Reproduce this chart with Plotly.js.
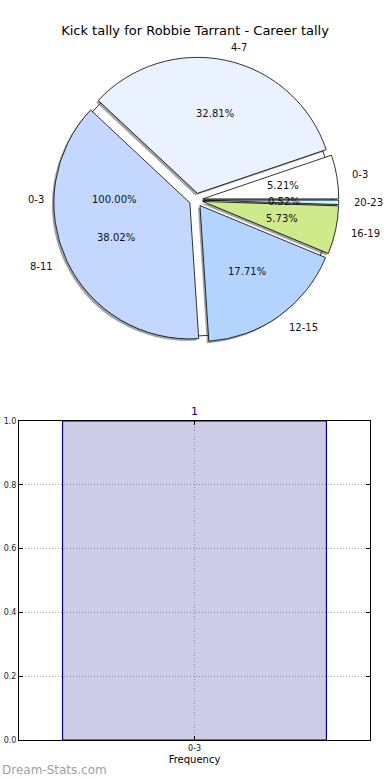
<!DOCTYPE html>
<html>
<head>
<meta charset="utf-8">
<script src="https://cdn.plot.ly/plotly-3.0.1.min.js"></script>
<style>html,body{margin:0;padding:0;background:#fff;}#chart{width:390px;height:780px;}</style>
</head>
<body>
<div id="chart"></div>
<script>
// ---- data ----
const titleText = "Kick tally for Robbie Tarrant - Career tally";
const outerLabels = ["0-3"];
const outerValues = [100.00];
const sliceLabels = ["0-3", "4-7", "8-11", "12-15", "16-19", "20-23"];
const sliceValues = [5.21, 32.81, 38.02, 17.71, 5.73, 0.52];
const sliceColors = ["#ffffff", "#eaf2ff", "#c4d8ff", "#b3d4ff", "#cfea8b", "#c8f4ff"];
const barCategories = ["0-3"];
const barValues = [1];
const yTicks = [0.0, 0.2, 0.4, 0.6, 0.8, 1.0];

// ---- geometry (pixels) ----
const W = 390, H = 780;
const cx = 196, cy = 200, R = 136, PULL = 0.05;
function dom(half, dx, dy) {
  return {
    x: [(cx + dx - half) / W, (cx + dx + half) / W],
    y: [1 - (cy + dy + half) / H, 1 - (cy + dy - half) / H]
  };
}
const pulls = sliceValues.map(() => PULL);
const sliceTotal = sliceValues.reduce((a, b) => a + b, 0);
// plotly's counterclockwise pies end the first slice at "rotation"; start it at 3 o'clock instead
const ccwRotation = 90 - 360 * sliceValues[0] / sliceTotal;

const traces = [];
// white underlying 100% pie
traces.push({
  type: 'pie', values: outerValues, labels: outerLabels, sort: false,
  domain: dom(R, 0, 0), marker: {colors: ['#ffffff'], line: {color: '#000', width: 0.8}},
  textinfo: 'none', hoverinfo: 'skip', showlegend: false
});
// shadow
traces.push({
  type: 'pie', values: sliceValues, labels: sliceLabels, sort: false,
  direction: 'counterclockwise', rotation: ccwRotation, pull: pulls,
  domain: dom(R * (1 + PULL), -2, 2),
  marker: {colors: sliceValues.map(() => 'rgba(70,70,70,0.5)'), line: {width: 0}},
  textinfo: 'none', hoverinfo: 'skip', showlegend: false
});
// main exploded pie
traces.push({
  type: 'pie', values: sliceValues, labels: sliceLabels, sort: false,
  direction: 'counterclockwise', rotation: ccwRotation, pull: pulls,
  domain: dom(R * (1 + PULL), 0, 0),
  marker: {colors: sliceColors, line: {color: '#000', width: 0.8}},
  textinfo: 'none', hoverinfo: 'skip', showlegend: false
});
// bar chart
traces.push({
  type: 'bar', x: barCategories, y: barValues, width: 0.8,
  marker: {color: 'rgba(0,0,128,0.2)', line: {color: '#000080', width: 1.2}},
  text: barValues.map(String), textposition: 'outside', cliponaxis: false,
  textfont: {color: '#000080', size: 11, family: 'DejaVu Sans'},
  xaxis: 'x', yaxis: 'y', hoverinfo: 'skip', showlegend: false
});

// ---- pie text annotations (matplotlib-style placement) ----
const annotations = [];
const font = {family: 'DejaVu Sans', size: 10, color: '#111'};
function addPieText(labels, values, explode, startDeg) {
  const total = values.reduce((a, b) => a + b, 0);
  let acc = 0;
  labels.forEach((lab, i) => {
    const frac = values[i] / total;
    const mid = (startDeg + 360 * (acc + frac / 2)) * Math.PI / 180;
    acc += frac;
    const ox = cx + explode * R * Math.cos(mid), oy = cy - explode * R * Math.sin(mid);
    const lx = ox + 1.1 * R * Math.cos(mid), ly = oy - 1.1 * R * Math.sin(mid);
    const px = ox + 0.6 * R * Math.cos(mid), py = oy - 0.6 * R * Math.sin(mid);
    annotations.push({xref: 'paper', yref: 'paper', x: lx / W, y: 1 - ly / H, text: lab,
      showarrow: false, xanchor: Math.cos(mid) > 0 ? 'left' : 'right', yanchor: 'middle', font: font});
    annotations.push({xref: 'paper', yref: 'paper', x: px / W, y: 1 - py / H,
      text: (frac * 100).toFixed(2) + '%', showarrow: false, xanchor: 'center', yanchor: 'middle', font: font});
  });
}
addPieText(outerLabels, outerValues, 0, 0);
addPieText(sliceLabels, sliceValues, PULL, 0);

annotations.push({xref: 'paper', yref: 'paper', x: 0, y: 1 - 770 / H, xanchor: 'left', yanchor: 'middle',
  text: 'Dream-Stats.com', showarrow: false,
  font: {family: 'DejaVu Sans', size: 12, color: '#a0a0a0'}});

const gridDash = '1px,2px';
const layout = {
  width: W, height: H,
  margin: {l: 0, r: 0, t: 0, b: 0},
  paper_bgcolor: '#fff', plot_bgcolor: '#fff',
  title: {text: titleText, x: 0.5, xanchor: 'center', y: 1 - 30 / H, yanchor: 'middle', yref: 'container',
    font: {family: 'DejaVu Sans', size: 13, color: '#000'}},
  xaxis: {domain: [19 / W, 370 / W], anchor: 'y', type: 'category', range: [-0.532, 0.532],
    showline: true, linecolor: '#000', linewidth: 1, mirror: 'ticks', ticks: 'inside', ticklen: 4,
    tickcolor: '#000', showgrid: true, gridcolor: '#a8a8a8', griddash: gridDash, gridwidth: 1,
    tickfont: {family: 'DejaVu Sans', size: 8, color: '#222'}, zeroline: false,
    title: {text: 'Frequency', font: {family: 'DejaVu Sans', size: 10, color: '#000'}, standoff: 4}},
  yaxis: {domain: [1 - 740 / H, 1 - 421 / H], anchor: 'x', range: [0, 1], tickvals: yTicks,
    tickformat: '.1f', showline: true, linecolor: '#000', linewidth: 1, mirror: 'ticks', ticks: 'inside',
    ticklen: 4, tickcolor: '#000', showgrid: true, gridcolor: '#a8a8a8', griddash: gridDash, gridwidth: 1,
    tickfont: {family: 'DejaVu Sans', size: 8, color: '#222'}, zeroline: false},
  annotations: annotations
};

Plotly.newPlot('chart', traces, layout, {displayModeBar: false, staticPlot: true});
</script>
</body>
</html>
